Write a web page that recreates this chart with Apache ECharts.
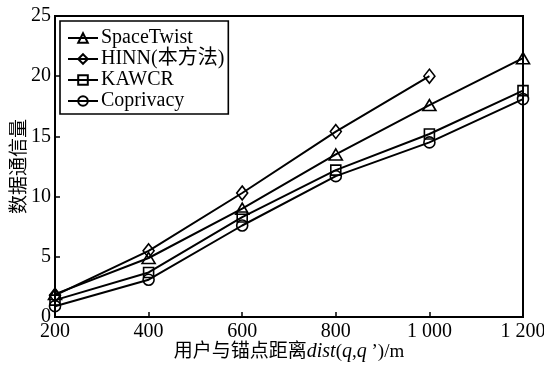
<!DOCTYPE html>
<html>
<head>
<meta charset="utf-8">
<script src="https://cdn.jsdelivr.net/npm/echarts@6/dist/echarts.min.js"></script>
<style>
  html, body { margin: 0; padding: 0; background: #fff; }
  #chart { width: 544px; height: 366px; }
</style>
</head>
<body>
<div id="chart"></div>
<script>
// Distance between user and anchor point (m)
const distances = ['200', '400', '600', '800', '1 000', '1 200'];

// Communication volume per method
const spaceTwist = [1.9, 4.9, 9.0, 13.5, 17.6, 21.5];
const hinn       = [1.8, 5.5, 10.3, 15.4, 20.0];
const kawcr      = [1.4, 3.7, 8.3, 12.2, 15.2, 18.8];
const coprivacy  = [0.9, 3.1, 7.6, 11.7, 14.5, 18.1];

const yTicks = { min: 0, max: 25, interval: 5 };

const FONT = '"Liberation Serif", "Noto Sans CJK SC", serif';
const INK = '#000';

function seriesOf(name, data, symbol, size) {
  return {
    name: name,
    type: 'line',
    data: data,
    symbol: symbol,
    symbolSize: size,
    showSymbol: true,
    clip: false,
    lineStyle: { color: INK, width: 2 },
    itemStyle: { color: 'rgba(255,255,255,0)', borderColor: INK, borderWidth: 1.6 },
    emphasis: { disabled: true }
  };
}

const chart = echarts.init(document.getElementById('chart'), null, { renderer: 'canvas' });
chart.setOption({
  animation: false,
  backgroundColor: '#fff',
  textStyle: { fontFamily: FONT, color: INK },
  grid: {
    left: 55, right: 21, top: 16, bottom: 49,
    containLabel: false,
    outerBoundsMode: 'none',
    show: true, borderColor: INK, borderWidth: 2, backgroundColor: 'transparent'
  },
  legend: {
    orient: 'vertical',
    left: 60, top: 21,
    padding: [7, 4, 3, 7],
    itemGap: 1,
    itemWidth: 30, itemHeight: 12,
    borderColor: INK, borderWidth: 1.6,
    backgroundColor: '#fff',
    textStyle: { fontFamily: FONT, fontSize: 20, color: INK, lineHeight: 19, padding: [0, 0, 0, -2] },
    data: ['SpaceTwist', 'HINN(本方法)', 'KAWCR', 'Coprivacy']
  },
  xAxis: {
    type: 'category',
    data: distances,
    boundaryGap: false,
    name: '用户与锚点距离{i|dist}({i|q},{i|q} ’)/m',
    nameLocation: 'middle',
    nameGap: 25,
    nameMoveOverlap: false,
    nameTextStyle: {
      fontFamily: FONT, fontSize: 19, color: INK,
      rich: { i: { fontFamily: FONT, fontStyle: 'italic', fontSize: 20, color: INK } }
    },
    axisLine: { lineStyle: { color: INK, width: 2 } },
    axisTick: { inside: true, length: 5, lineStyle: { color: INK, width: 1.5 } },
    axisLabel: { fontFamily: FONT, fontSize: 20, color: INK, margin: 5 },
    splitLine: { show: false }
  },
  yAxis: {
    type: 'value',
    min: yTicks.min, max: yTicks.max, interval: yTicks.interval,
    name: '数据通信量',
    nameLocation: 'middle',
    nameGap: 25,
    nameMoveOverlap: false,
    nameTextStyle: { fontFamily: FONT, fontSize: 19, color: INK },
    axisLine: { show: true, lineStyle: { color: INK, width: 2 } },
    axisTick: { show: true, inside: true, length: 5, lineStyle: { color: INK, width: 1.5 } },
    axisLabel: { fontFamily: FONT, fontSize: 20, color: INK, margin: 4 },
    splitLine: { show: false }
  },
  series: [
    seriesOf('SpaceTwist', spaceTwist, 'triangle', [13, 11]),
    seriesOf('HINN(本方法)', hinn, 'diamond', [11, 14]),
    seriesOf('KAWCR', kawcr, 'rect', [10, 10]),
    seriesOf('Coprivacy', coprivacy, 'circle', 11)
  ]
});
</script>
</body>
</html>
